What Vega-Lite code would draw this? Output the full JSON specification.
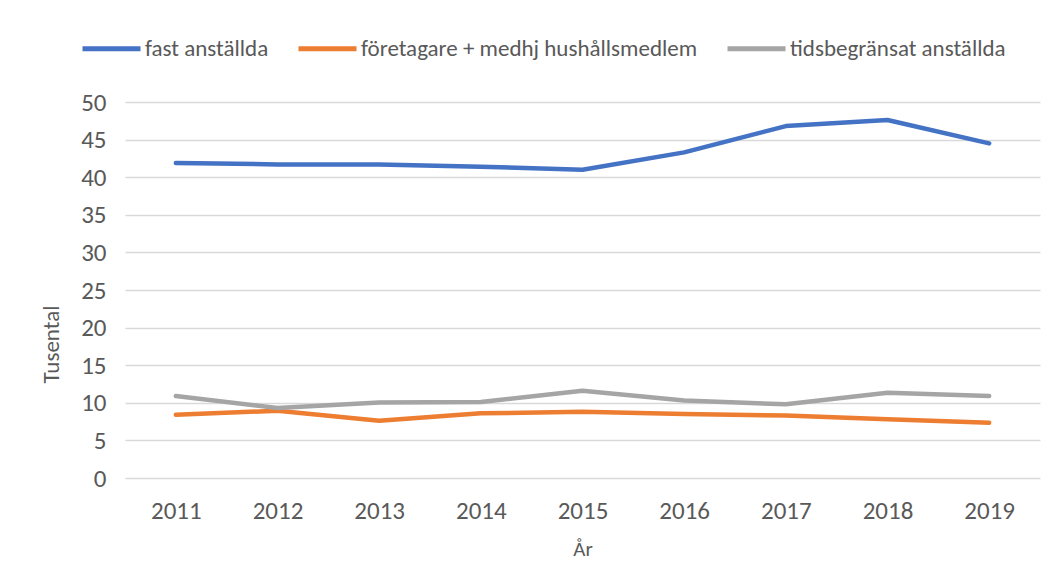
{
  "$schema": "https://vega.github.io/schema/vega-lite/v6.json",
  "width": 915,
  "height": 376,
  "autosize": {"type": "none"},
  "padding": {"left": 125, "top": 102, "right": 16, "bottom": 109},
  "background": "white",
  "config": {
    "font": "Carlito, Lato, sans-serif",
    "view": {"stroke": null}
  },
  "data": {
    "values": [
      {"year": "2011", "series": "fast anställda", "value": 41.9},
      {"year": "2012", "series": "fast anställda", "value": 41.7},
      {"year": "2013", "series": "fast anställda", "value": 41.7},
      {"year": "2014", "series": "fast anställda", "value": 41.4},
      {"year": "2015", "series": "fast anställda", "value": 41.0},
      {"year": "2016", "series": "fast anställda", "value": 43.3},
      {"year": "2017", "series": "fast anställda", "value": 46.8},
      {"year": "2018", "series": "fast anställda", "value": 47.6},
      {"year": "2019", "series": "fast anställda", "value": 44.5},
      {"year": "2011", "series": "företagare + medhj hushållsmedlem", "value": 8.4},
      {"year": "2012", "series": "företagare + medhj hushållsmedlem", "value": 8.95},
      {"year": "2013", "series": "företagare + medhj hushållsmedlem", "value": 7.6},
      {"year": "2014", "series": "företagare + medhj hushållsmedlem", "value": 8.6},
      {"year": "2015", "series": "företagare + medhj hushållsmedlem", "value": 8.8},
      {"year": "2016", "series": "företagare + medhj hushållsmedlem", "value": 8.5},
      {"year": "2017", "series": "företagare + medhj hushållsmedlem", "value": 8.3},
      {"year": "2018", "series": "företagare + medhj hushållsmedlem", "value": 7.8},
      {"year": "2019", "series": "företagare + medhj hushållsmedlem", "value": 7.35},
      {"year": "2011", "series": "tidsbegränsat anställda", "value": 10.9},
      {"year": "2012", "series": "tidsbegränsat anställda", "value": 9.3},
      {"year": "2013", "series": "tidsbegränsat anställda", "value": 10.05},
      {"year": "2014", "series": "tidsbegränsat anställda", "value": 10.1},
      {"year": "2015", "series": "tidsbegränsat anställda", "value": 11.6},
      {"year": "2016", "series": "tidsbegränsat anställda", "value": 10.3},
      {"year": "2017", "series": "tidsbegränsat anställda", "value": 9.8},
      {"year": "2018", "series": "tidsbegränsat anställda", "value": 11.35},
      {"year": "2019", "series": "tidsbegränsat anställda", "value": 10.9}
    ]
  },
  "mark": {"type": "line", "strokeWidth": 4.5, "strokeCap": "round", "strokeJoin": "round"},
  "encoding": {
    "x": {
      "field": "year",
      "type": "ordinal",
      "scale": {"type": "point", "padding": 0.5},
      "axis": {
        "title": "År",
        "titleFontSize": 21,
        "titleFontWeight": "normal",
        "titleColor": "#595959",
        "titlePadding": 15,
        "labelAngle": 0,
        "labelFontSize": 25,
        "labelColor": "#595959",
        "labelPadding": 20,
        "ticks": false,
        "domain": false,
        "grid": false
      }
    },
    "y": {
      "field": "value",
      "type": "quantitative",
      "scale": {"domain": [0, 50], "nice": false},
      "axis": {
        "title": "Tusental",
        "titleFontSize": 23,
        "titleFontWeight": "normal",
        "titleColor": "#595959",
        "titlePadding": 17,
        "titleY": 242,
        "titleAlign": "center",
        "values": [0, 5, 10, 15, 20, 25, 30, 35, 40, 45, 50],
        "labelFontSize": 25,
        "labelColor": "#595959",
        "labelPadding": 19,
        "ticks": false,
        "domain": false,
        "grid": true,
        "gridColor": "#D9D9D9",
        "gridWidth": 1.3
      }
    },
    "color": {
      "field": "series",
      "type": "nominal",
      "scale": {
        "domain": ["fast anställda", "företagare + medhj hushållsmedlem", "tidsbegränsat anställda"],
        "range": ["#4472C4", "#ED7D31", "#A5A5A5"]
      },
      "legend": {
        "title": null,
        "orient": "none",
        "direction": "horizontal",
        "legendX": -45,
        "legendY": -85,
        "symbolType": "stroke",
        "symbolSize": 3364,
        "symbolStrokeWidth": 5,
        "labelFontSize": 23,
        "labelColor": "#595959",
        "labelOffset": 2,
        "columnPadding": 19,
        "labelLimit": 400
      }
    }
  }
}
